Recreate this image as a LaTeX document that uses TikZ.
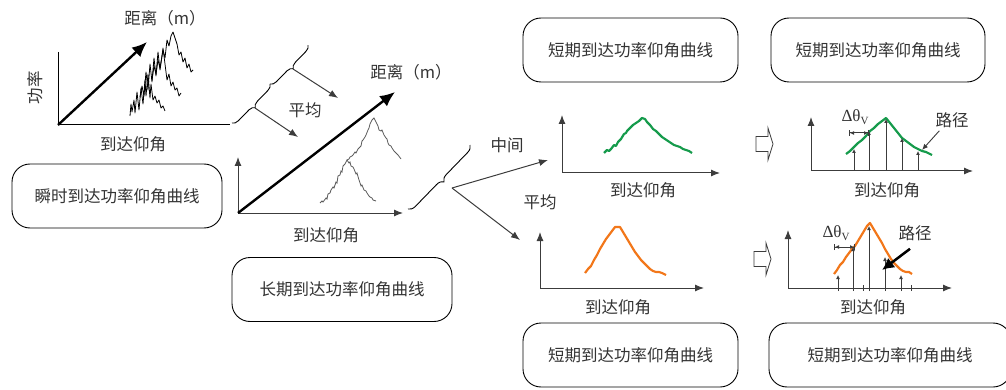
\documentclass[tikz,border=0pt]{standalone}
\usepackage{fontspec}
\newfontfamily\cjk{Noto Sans CJK SC}
\newfontfamily\serifgreek{Liberation Serif}
\usetikzlibrary{arrows.meta,decorations.pathreplacing}
\definecolor{axisgray}{HTML}{3C3C3C}
\definecolor{curvegray}{HTML}{5A5A5A}
\definecolor{pathgreen}{HTML}{169B4C}
\definecolor{pathorange}{HTML}{F2771A}
\newcommand{\spreadlabel}{{\serifgreek\fontsize{17}{19}\selectfont Δθ\raisebox{-0.35ex}{\fontsize{11}{12}\selectfont V}}}

\begin{document}
\begin{tikzpicture}[
		x=1pt, y=-1pt,
		every node/.style={
				font=\cjk\fontsize{16.5}{19}\selectfont,
				text=black!80, inner sep=0pt,
			},
		curvebox/.style={draw, line width=0.9pt, rounded corners=18pt, minimum height=64pt},
		axis/.style={draw=axisgray, line width=1pt, -{Latex[length=9pt,width=7pt]}},
		bigarrow/.style={line width=2.4pt, -{Latex[length=15pt,width=13pt]}},
		ray/.style={draw=axisgray, line width=0.8pt, -{Latex[length=4pt,width=4pt]}},
		spread/.style={draw=axisgray, line width=1pt, {Bar[width=6pt]Latex[length=4pt,width=4pt]}-{Latex[length=4pt,width=4pt]Bar[width=6pt]}},
		greencurve/.style={draw=pathgreen, line width=2.2pt, line join=round},
		orangecurve/.style={draw=pathorange, line width=2.2pt, line join=round},
		bracket/.style={line width=0.9pt, decorate, decoration={brace, amplitude=6pt, mirror}},
	]
	\useasboundingbox (0,0) rectangle (1006,390);

	% boxes
	\node[curvebox, minimum width=210pt] (instant) at (117,196) {瞬时到达功率仰角曲线};
	\node[curvebox, minimum width=220pt] (longterm) at (342,289.5) {长期到达功率仰角曲线};
	\node[curvebox, minimum width=215pt] (short1) at (630.5,50) {短期到达功率仰角曲线};
	\node[curvebox, minimum width=214pt] (short2) at (878,50) {短期到达功率仰角曲线};
	\node[curvebox, minimum width=215pt] (short3) at (630.5,355) {短期到达功率仰角曲线};
	\node[curvebox, minimum width=242pt] (short4) at (890,355) {短期到达功率仰角曲线};

	% instantaneous profiles
	\coordinate (o1) at (58,125);
	\draw[line width=1pt] (58,52) -- (o1) -- (230,125);
	\draw[bigarrow] (o1) -- (147,42);
	\node (dist1) at (165,18) {距离（m）};
	\node[rotate=90] (power) at (35,88) {功率};
	\node (angle1) at (133,144) {到达仰角};
	\draw[line width=0.8pt, line join=round] plot coordinates {(130,116) (131,104) (132,112) (134,100) (135,113) (137,92) (139,110) (141,88) (143,104) (145,80) (146,96) (148,74) (150,98) (151,84) (153,100) (155,96) (157,103) (159,100) (161,108) (163,106) (165,111)};
	\draw[line width=0.8pt, line join=round] plot coordinates {(140,97) (142,86) (144,96) (146,72) (148,90) (150,64) (152,82) (154,58) (156,76) (158,52) (160,70) (162,56) (163,48) (165,64) (167,80) (169,74) (171,86) (173,82) (175,90) (177,88) (179,96) (181,93)};
	\draw[line width=0.8pt, line join=round] plot coordinates {(152,80) (154,66) (156,74) (158,60) (160,68) (163,50) (165,58) (167,40) (169,46) (171,36) (173,32) (175,38) (177,44) (179,55) (181,52) (183,62) (185,58) (187,68) (189,64) (191,72) (193,70)};

	% first pair of braces
	\draw[bracket] (232,123) -- (270,84);
	\draw[bracket] (270,84) -- (308,45);
	\coordinate (b1) at (255,108);
	\coordinate (b2) at (293,69);
	\coordinate (avg1) at (298,137);
	\coordinate (avg2) at (338,98);
	\draw[axis] (b1) -- (avg1);
	\draw[axis] (b2) -- (avg2);
	\node (avglabel1) at (305,110) {平均};

	% long-term profiles
	\coordinate (o2) at (238,213);
	\draw[axis] (o2) -- (238,157);
	\draw[axis] (o2) -- (403,213);
	\draw[bigarrow] (o2) -- (395,92);
	\node (dist2) at (411,72) {距离（m）};
	\node (angle2) at (326,235) {到达仰角};
	\draw[curvegray, line width=0.8pt] plot coordinates {(320,203) (322,201) (323,202) (326,198) (327,199) (328,194) (330,193) (331,190) (333,187) (334,188) (336,182) (337,183) (338,176) (340,175) (341,171) (342,172) (343,166) (345,164) (346,162) (347,160) (349,163) (350,162) (351,166) (353,167) (354,169) (356,174) (357,173) (359,180) (361,186) (362,185) (364,190) (366,191) (367,193) (369,196) (370,197) (372,198) (373,200) (376,201)};
	\draw[curvegray, line width=0.8pt] plot coordinates {(347,160) (349,159) (350,157) (352,156) (353,155) (355,152) (356,153) (358,149) (359,148) (361,146) (362,141) (363,140) (365,137) (366,135) (368,130) (369,128) (370,124) (371,122) (372,120) (374,118) (375,120) (377,124) (378,126) (379,130) (381,131) (382,130) (384,135) (386,138) (387,139) (388,143) (389,145) (391,146) (392,148) (394,151) (395,152) (397,154) (398,155) (401,159)};

	% second brace
	\draw[bracket, decoration={amplitude=7pt}] (408,209) -- (470,145);
	\coordinate (fork) at (452,188);
	\coordinate (mid) at (548,160);
	\coordinate (avg3) at (520,240);
	\draw[axis] (fork) -- (mid);
	\draw[axis] (fork) -- (avg3);
	\node (midlabel) at (507,145) {中间};
	\node (avglabel2) at (540,202) {平均};

	% median profile
	\coordinate (o3) at (562,173);
	\draw[axis] (o3) -- (562,115);
	\draw[axis] (o3) -- (720,173);
	\node (angle3) at (643,190) {到达仰角};
	\draw[greencurve] plot coordinates {(604,153) (607,150) (609,151) (611,149) (614,145) (616,146) (618,142) (621,139) (624,134) (626,133) (627,131) (630,128) (633,125) (636,123) (639,121) (642,118) (645,119) (647,122) (650,125) (653,129) (656,131) (659,134) (662,137) (665,139) (668,141) (671,143) (674,145) (677,146) (680,147) (683,149) (686,150) (689,151) (692,153)};

	% mean profile
	\coordinate (o4) at (540,288);
	\draw[axis] (o4) -- (540,232);
	\draw[axis] (o4) -- (704,288);
	\node (angle4) at (618,307) {到达仰角};
	\draw[orangecurve] plot coordinates {(585,273) (588,269) (591,266) (594,260) (597,255) (600,249) (603,244) (606,239) (609,235) (612,231) (615,227) (620,227) (623,232) (626,237) (629,242) (632,247) (635,252) (638,256) (641,260) (644,263) (647,266) (650,269) (653,271) (656,272) (659,272) (662,273) (666,275)};

	% hollow arrows
	\foreach \px/\py in {756/144, 754/259} {
			\draw[axisgray, line width=0.8pt, shift={(\px,\py)}] (0,-7.5) -- (12,-7.5) -- (12,-16) -- (17,0) -- (12,16) -- (12,7.5) -- (0,7.5) -- cycle;
		}

	% paths from the median profile
	\coordinate (o5) at (811,171);
	\draw[axis] (o5) -- (811,117);
	\draw[axis] (o5) -- (973,171);
	\node (angle5) at (887,190) {到达仰角};
	\draw[greencurve] plot coordinates {(846,154) (850,151) (854,147) (858,143) (862,140) (866,136) (870,131) (874,128) (878,124) (882,121) (886,118) (890,123) (894,128) (898,133) (902,138) (906,141) (910,144) (914,147) (918,149) (922,151) (926,152) (932,155)};
	\foreach \x/\y in {854/149, 869/131, 886/119, 902/138, 918/151} {
			\draw[ray] (\x,171) -- (\x,\y);
		}
	\draw[spread] (849,133) -- (869,133);
	\node (dtheta1) at (855,117) {\spreadlabel};
	\node (route1) at (952,120) {路径};
	\coordinate (hit1) at (922,150);
	\draw[ray, line width=0.9pt, -{Latex[length=6pt,width=5pt]}] ([xshift=4pt,yshift=-3pt]route1.south west) -- (hit1);

	% paths from the mean profile
	\coordinate (o6) at (788,288);
	\draw[axis] (o6) -- (788,230);
	\draw[axis] (o6) -- (952,288);
	\node (angle6) at (873,307) {到达仰角};
	\draw[orangecurve] plot coordinates {(834,274) (837,270) (840,265) (843,262) (846,257) (849,253) (852,249) (855,246) (858,241) (861,236) (864,231) (867,226) (870,223) (873,228) (876,233) (879,238) (882,243) (885,249) (888,254) (891,259) (894,263) (897,266) (900,269) (903,271) (906,272) (909,272) (912,274)};
	\foreach \x/\y in {838/275, 853/247, 869/226, 885/257, 901/275} {
			\draw[ray] (\x,291) -- (\x,\y);
		}
	\foreach \x in {863,911} {
			\draw[axisgray, line width=0.6pt] (\x,285) -- (\x,291);
		}
	\draw[spread] (834,247) -- (855,247);
	\node (dtheta2) at (836,233) {\spreadlabel};
	\node (route2) at (915,233) {路径};
	\coordinate (hit2) at (882,270);
	\draw[line width=2.5pt, -{Latex[length=12pt,width=12pt]}] ([xshift=-5pt,yshift=-8pt]route2.south) -- (hit2);
\end{tikzpicture}
\end{document}
